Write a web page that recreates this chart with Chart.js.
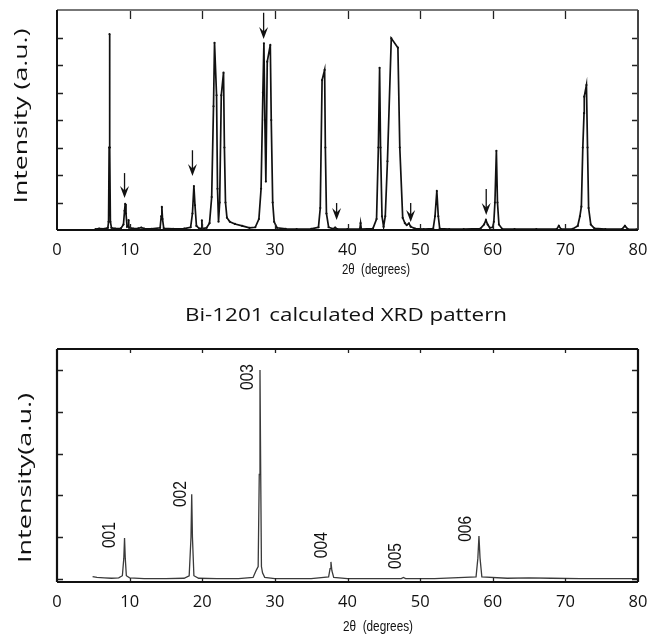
<!DOCTYPE html>
<html><head><meta charset="utf-8">
<script src="https://cdn.jsdelivr.net/npm/chart.js@4.4.1/dist/chart.umd.min.js"></script>
<style>
html,body{margin:0;padding:0;background:#fff;}
#wrap{position:relative;width:658px;height:640px;overflow:hidden;background:#fff;}
canvas{position:absolute;left:0;}
</style></head><body>
<div id="wrap">
<canvas id="topChart" width="658" height="290" style="top:0"></canvas>
<canvas id="botChart" width="658" height="350" style="top:290px"></canvas>
</div>
<script>
// ---------- data ----------
const xTicks = [0, 10, 20, 30, 40, 50, 60, 70, 80];
const topYTicks = [1, 2, 3, 4, 5, 6, 7];
const botYTicks = [0, 1, 2, 3, 4, 5];

// measured pattern (top)
const topTheta = [5.3,5.8,6.5,7.0,7.1,7.18,7.23,7.28,7.35,7.5,8.0,8.8,9.15,9.3,9.39,9.5,9.65,9.8,9.85,9.9,
  10.5,11.2,11.6,12.0,13.0,14.2,14.35,14.44,14.53,14.7,16.0,17.5,18.4,18.65,18.85,19.0,19.2,19.6,19.9,19.95,20.0,
  20.6,21.0,21.3,21.55,21.69,21.97,22.1,22.24,22.4,22.62,22.93,23.05,23.2,23.4,23.8,24.5,25.5,26.5,27.3,27.8,28.1,
  28.35,28.49,28.62,28.76,28.95,29.37,29.5,29.7,29.9,30.3,31.5,33.0,35.0,36.0,36.25,36.5,36.85,36.95,37.1,37.4,
  38.0,38.3,38.6,40.0,41.7,41.8,41.9,43.5,44.0,44.25,44.42,44.55,44.75,44.97,45.2,45.5,46.03,46.94,47.2,47.6,
  47.9,48.15,48.46,48.7,49.3,50.5,51.8,52.05,52.3,52.5,52.7,54.0,56.0,58.3,58.8,59.06,59.3,59.6,60.0,60.15,60.3,
  60.5,60.65,60.85,61.3,63.0,66.0,68.8,69.1,69.4,71.0,71.7,72.0,72.2,72.4,72.57,72.6,72.9,73.05,73.2,73.5,74.0,
  75.5,77.8,78.2,78.6,79.8];
const topIntensity = [0.03,0.05,0.04,0.08,0.3,3.0,7.12,3.0,0.3,0.08,0.05,0.06,0.2,0.7,0.95,0.6,0.12,0.15,0.36,0.1,
  0.05,0.06,0.09,0.05,0.04,0.08,0.5,0.84,0.4,0.06,0.04,0.05,0.1,0.6,1.6,0.9,0.15,0.05,0.06,0.35,0.05,
  0.08,0.25,1.2,4.5,6.81,4.9,1.5,0.3,1.0,4.9,5.72,3.0,1.0,0.45,0.3,0.22,0.15,0.08,0.1,0.4,1.5,
  5.0,6.79,4.0,1.76,6.12,6.73,4.0,1.0,0.3,0.08,0.04,0.03,0.04,0.1,0.8,5.45,5.82,3.0,0.6,0.1,
  0.04,0.09,0.03,0.03,0.04,0.25,0.03,0.05,0.4,3.0,5.9,3.0,0.5,0.12,0.5,2.5,6.97,6.63,3.0,0.44,
  0.25,0.18,0.24,0.12,0.05,0.03,0.05,0.5,1.42,0.5,0.05,0.03,0.03,0.05,0.2,0.36,0.2,0.08,0.1,0.3,1.0,
  2.88,1.0,0.2,0.04,0.03,0.03,0.03,0.15,0.03,0.04,0.15,0.5,0.85,3.0,4.25,4.85,5.27,3.0,0.8,0.2,0.06,
  0.03,0.03,0.15,0.03,0.02];

// arrows on the measured pattern
const arrowTheta = [9.3, 18.65, 28.45, 38.5, 48.7, 59.1];
const arrowTail  = [2.07, 2.9, 7.9, 0.98, 0.98, 1.49];
const arrowTip   = [1.16, 1.96, 6.95, 0.36, 0.29, 0.55];

// calculated pattern (bottom)
const calcTheta = [4.9,5.5,6.5,7.5,8.5,9.0,9.2,9.3,9.4,9.55,10.0,12.0,15.0,17.5,18.2,18.45,18.55,18.65,18.85,19.5,
  22.0,25.0,27.0,27.4,27.55,27.7,27.85,27.95,28.05,28.15,28.3,28.6,30.0,35.0,37.4,37.6,37.72,37.85,38.1,40.0,45.0,
  47.4,47.7,48.0,52.0,57.7,57.95,58.1,58.25,58.5,62.0,65.0,68.0,72.0,80.0];
const calcIntensity = [0.06,0.04,0.03,0.02,0.03,0.08,0.5,0.98,0.5,0.08,0.03,0.01,0.01,0.02,0.08,1.0,2.03,1.0,0.08,0.02,
  0.01,0.01,0.04,0.2,0.25,0.3,2.5,5.0,2.5,0.3,0.15,0.04,0.01,0.01,0.05,0.25,0.41,0.2,0.04,0.01,0.01,
  0.01,0.04,0.01,0.01,0.05,0.5,1.03,0.5,0.05,0.02,0.03,0.02,0.01,0.01];

const peakLabels = ['001', '002', '003', '004', '005', '006'];
const peakLabelTheta = [7.24, 17.03, 26.3, 36.5, 46.7, 56.3];
const peakLabelBase  = [0.74, 1.72, 4.52, 0.5, 0.24, 0.89];

const xTitle = '2\u03B8  (degrees)';
const topYTitle = 'Intensity (a.u.)';
const botYTitle = 'Intensity(a.u.)';
const botTitle = 'Bi-1201 calculated XRD pattern';

// ---------- helpers ----------
const SANS = '"Open Sans", "Noto Sans", sans-serif';
const ARIAL = '"Liberation Sans", Arial, sans-serif';

function toPoints(xs, ys) { return xs.map((x, i) => ({ x: x, y: ys[i] })); }

function framePlugin(cfg) {
  return {
    id: 'frame',
    afterDatasetsDraw(chart) {
      const { ctx, chartArea: a, scales: { x, y } } = chart;
      ctx.save();
      ctx.lineCap = 'butt';
      ctx.strokeStyle = cfg.tickColor; ctx.lineWidth = 1.3;
      ctx.beginPath();
      x.ticks.forEach(t => {
        if (t.value <= x.min || t.value >= x.max) return;
        const px = Math.round(x.getPixelForValue(t.value)) + 0.5;
        ctx.moveTo(px, a.top); ctx.lineTo(px, a.top + cfg.topLen);
        ctx.moveTo(px, a.bottom); ctx.lineTo(px, a.bottom - cfg.botLen);
      });
      y.ticks.forEach(t => {
        const py = Math.round(y.getPixelForValue(t.value)) + 0.5;
        ctx.moveTo(a.left, py); ctx.lineTo(a.left + cfg.sideLen, py);
        ctx.moveTo(a.right, py); ctx.lineTo(a.right - cfg.sideLen, py);
      });
      ctx.stroke();
      const sides = [
        [a.left, a.top, a.right, a.top, cfg.colTop],
        [a.right, a.top, a.right, a.bottom, cfg.colRight],
        [a.left, a.bottom, a.right, a.bottom, cfg.colBottom],
        [a.left, a.top, a.left, a.bottom, cfg.colLeft]
      ];
      ctx.lineWidth = cfg.frameWidth;
      sides.forEach(s => {
        ctx.strokeStyle = s[4];
        ctx.beginPath();
        ctx.moveTo(s[0], s[1]); ctx.lineTo(s[2], s[3]);
        ctx.stroke();
      });
      ctx.restore();
    }
  };
}

// draws text items; "fit" stretches/condenses the text along its direction to a target length
function textPlugin(items) {
  return {
    id: 'texts',
    afterDraw(chart) {
      const ctx = chart.ctx;
      ctx.save();
      items(chart).forEach(it => {
        ctx.save();
        ctx.font = it.font;
        ctx.fillStyle = it.color || '#111';
        ctx.textAlign = it.align || 'center';
        ctx.textBaseline = it.baseline || 'middle';
        ctx.translate(it.x, it.y);
        if (it.rot) ctx.rotate(it.rot);
        if (it.fit) {
          const w = ctx.measureText(it.text).width;
          ctx.scale(it.fit / w, 1);
        }
        ctx.fillText(it.text, 0, 0);
        ctx.restore();
      });
      ctx.restore();
    }
  };
}

const arrowPlugin = {
  id: 'arrows',
  afterDatasetsDraw(chart) {
    const { ctx, scales: { x, y } } = chart;
    ctx.save();
    ctx.strokeStyle = '#111'; ctx.fillStyle = '#111'; ctx.lineWidth = 1.3;
    arrowTheta.forEach((t, i) => {
      const px = x.getPixelForValue(t);
      const pTail = y.getPixelForValue(arrowTail[i]);
      const pTip = y.getPixelForValue(arrowTip[i]);
      ctx.beginPath();
      ctx.moveTo(px, pTail); ctx.lineTo(px, pTip - 6);
      ctx.stroke();
      ctx.beginPath();
      ctx.moveTo(px, pTip);
      ctx.lineTo(px - 4.5, pTip - 12);
      ctx.lineTo(px, pTip - 7.5);
      ctx.lineTo(px + 4.5, pTip - 12);
      ctx.closePath();
      ctx.fill();
    });
    ctx.restore();
  }
};

function xScale(padding) {
  return {
    type: 'linear', min: 0, max: 80,
    afterBuildTicks: s => { s.ticks = xTicks.map(v => ({ value: v })); },
    grid: { display: false, drawTicks: false },
    border: { display: false },
    ticks: { color: '#111', font: { family: SANS, size: 16.5 }, padding: padding, maxRotation: 0, autoSkip: false }
  };
}

Chart.defaults.animation = false;

// ---------- top chart ----------
new Chart(document.getElementById('topChart'), {
  type: 'line',
  data: { datasets: [{
    data: toPoints(topTheta, topIntensity),
    borderColor: '#111', borderWidth: 1.7, tension: 0,
    pointRadius: 1.1, pointBackgroundColor: '#111', pointBorderWidth: 0
  }] },
  options: {
    responsive: false, devicePixelRatio: 1,
    layout: { padding: { left: 0, right: 20, top: 10, bottom: 0 } },
    plugins: { legend: { display: false }, tooltip: { enabled: false } },
    scales: {
      x: Object.assign(xScale(10), { afterFit: s => { s.height = 60; } }),
      y: {
        type: 'linear', min: 0, max: 8,
        afterBuildTicks: s => { s.ticks = topYTicks.map(v => ({ value: v })); },
        afterFit: s => { s.width = 57; },
        grid: { display: false, drawTicks: false }, border: { display: false },
        ticks: { display: false }
      }
    }
  },
  plugins: [
    framePlugin({ tickColor: '#222', topLen: 9, botLen: 6, sideLen: 6, frameWidth: 2,
      colTop: '#777', colRight: '#444', colBottom: '#111', colLeft: '#111' }),
    arrowPlugin,
    textPlugin(chart => [
      { text: xTitle, font: '14px ' + ARIAL, x: 376, y: 270, fit: 68 },
      { text: topYTitle, font: '19px ' + SANS, x: 22, y: 116, rot: -Math.PI / 2, fit: 175 }
    ])
  ]
});

// ---------- bottom chart ----------
new Chart(document.getElementById('botChart'), {
  type: 'line',
  data: { datasets: [{
    data: toPoints(calcTheta, calcIntensity),
    borderColor: '#3a3a3a', borderWidth: 1.3, tension: 0, pointRadius: 0
  }] },
  options: {
    responsive: false, devicePixelRatio: 1,
    layout: { padding: { left: 0, right: 20, top: 59, bottom: 0 } },
    plugins: { legend: { display: false }, tooltip: { enabled: false } },
    scales: {
      x: Object.assign(xScale(10), { afterFit: s => { s.height = 58; } }),
      y: {
        type: 'linear', min: -0.07, max: 5.5,
        afterBuildTicks: s => { s.ticks = botYTicks.map(v => ({ value: v })); },
        afterFit: s => { s.width = 57; },
        grid: { display: false, drawTicks: false }, border: { display: false },
        ticks: { display: false }
      }
    }
  },
  plugins: [
    framePlugin({ tickColor: '#222', topLen: 4, botLen: 4, sideLen: 6, frameWidth: 2.2,
      colTop: '#111', colRight: '#111', colBottom: '#111', colLeft: '#111' }),
    textPlugin(chart => {
      const { x, y } = chart.scales;
      const list = [
        { text: botTitle, font: '19px ' + SANS, x: 346, y: 26, fit: 322 },
        { text: xTitle, font: '14px ' + ARIAL, x: 378, y: 337, fit: 70 },
        { text: botYTitle, font: '19px ' + SANS, x: 26, y: 188, rot: -Math.PI / 2, fit: 170 }
      ];
      peakLabels.forEach((l, i) => list.push({
        text: l, font: '18px ' + ARIAL, align: 'left', baseline: 'middle',
        x: x.getPixelForValue(peakLabelTheta[i]), y: y.getPixelForValue(peakLabelBase[i]),
        rot: -Math.PI / 2, fit: 26
      }));
      return list;
    })
  ]
});
</script>
</body></html>
